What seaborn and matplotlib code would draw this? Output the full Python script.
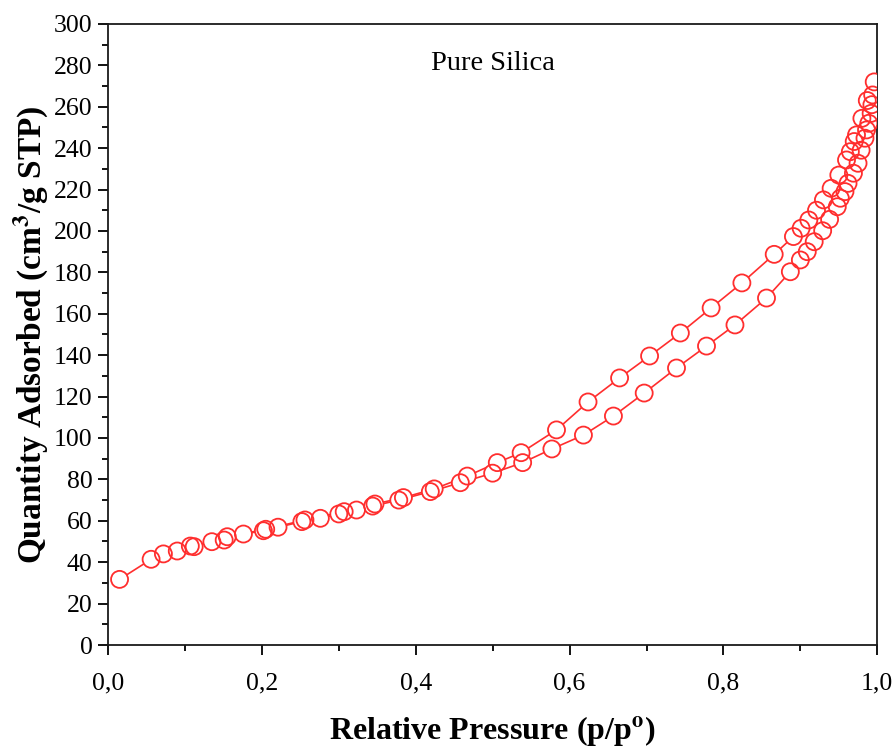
import numpy as np
import pandas as pd
import matplotlib
matplotlib.use('Agg')
import matplotlib.pyplot as plt
import matplotlib.ticker as mtick
import seaborn as sns

ads_p = [0.015, 0.056, 0.072, 0.090, 0.107, 0.135, 0.151, 0.176, 0.202, 0.221,
         0.252, 0.276, 0.300, 0.323, 0.344, 0.378, 0.419, 0.458, 0.500, 0.539,
         0.577, 0.618, 0.657, 0.697, 0.739, 0.778, 0.815, 0.856, 0.887, 0.900,
         0.909, 0.918, 0.929, 0.938, 0.948, 0.952, 0.958, 0.962, 0.969, 0.975,
         0.979, 0.984, 0.986, 0.989, 0.992, 0.993, 0.994]
ads_q = [31.7, 41.4, 44.0, 45.4, 47.8, 49.9, 50.7, 53.6, 55.2, 56.9,
         59.6, 61.2, 63.3, 65.2, 67.1, 70.0, 74.1, 78.4, 83.0, 88.1,
         94.7, 101.4, 110.6, 121.7, 133.8, 144.4, 154.6, 167.6, 180.3, 186.0,
         190.0, 194.8, 200.1, 205.6, 211.7, 215.8, 219.0, 223.0, 227.9, 232.7,
         239.0, 244.8, 248.8, 252.0, 256.8, 261.0, 265.7]

des_p = [0.996, 0.987, 0.980, 0.973, 0.970, 0.965, 0.960, 0.950, 0.940, 0.930,
         0.921, 0.911, 0.901, 0.891, 0.866, 0.824, 0.784, 0.744, 0.704, 0.665,
         0.624, 0.583, 0.537, 0.506, 0.467, 0.424, 0.384, 0.347, 0.307, 0.256,
         0.205, 0.155, 0.112]
des_q = [272.0, 263.0, 254.4, 246.4, 243.2, 238.3, 234.3, 227.0, 220.6, 215.0,
         210.0, 205.3, 201.3, 197.3, 188.7, 174.9, 162.8, 150.7, 139.6, 129.0,
         117.4, 103.9, 92.9, 88.1, 81.6, 75.4, 71.2, 68.1, 64.4, 60.4,
         55.9, 52.3, 47.5]

RED = '#ff2e2e'

sns.set_style('ticks')
plt.rcParams.update({
    'font.family': ['Liberation Serif', 'DejaVu Serif'],
    'mathtext.fontset': 'stix',
    'axes.linewidth': 1.3,
    'text.color': 'black',
    'axes.labelcolor': 'black',
    'xtick.color': 'black',
    'ytick.color': 'black',
})

fig = plt.figure(figsize=(8.95, 7.48), dpi=100)
ax = fig.add_axes([0.1207, 0.1377, 0.8595, 0.8303])

for p, q in ((ads_p, ads_q), (des_p, des_q)):
    df = pd.DataFrame({'p': p, 'q': q})
    sns.lineplot(data=df, x='p', y='q', sort=False, estimator=None,
                 color=RED, lw=1.2, ax=ax, zorder=2)
    # white fill hides the line inside the circles, then outlines on top
    sns.scatterplot(data=df, x='p', y='q', s=150, color='white',
                    edgecolor='none', linewidth=0, ax=ax, zorder=3)
    sns.scatterplot(data=df, x='p', y='q', s=150, facecolor='none',
                    edgecolor=RED, linewidth=1.3, ax=ax, zorder=4)

ax.set_xlim(0, 1.0)
ax.set_ylim(0, 300)
ax.xaxis.set_major_locator(mtick.MultipleLocator(0.2))
ax.xaxis.set_minor_locator(mtick.MultipleLocator(0.1))
ax.yaxis.set_major_locator(mtick.MultipleLocator(20))
ax.yaxis.set_minor_locator(mtick.MultipleLocator(10))
ax.xaxis.set_major_formatter(mtick.FuncFormatter(lambda v, _: f'{v:.1f}'.replace('.', ',')))
ax.tick_params(which='major', direction='out', length=7, width=1.3, labelsize=18.5)
ax.tick_params(which='minor', direction='out', length=4, width=1.3)
ax.tick_params(axis='x', pad=13)
ax.tick_params(axis='y', pad=4)
ax.tick_params(top=False, right=False, which='both')
for s in ax.spines.values():
    s.set_visible(True)
    s.set_color('#1a1a1a')

ax.set_xlabel(r'Relative Pressure (p/p$^{\mathbf{o}}$)', fontsize=23,
              fontweight='bold', labelpad=14)
ax.set_ylabel(r'Quantity Adsorbed (cm$^{\mathbf{3}}$/g STP)', fontsize=24,
              fontweight='bold', labelpad=2)
ax.text(0.5, 281, 'Pure Silica', fontsize=20.5, ha='center', va='center')

fig.savefig('out.png', dpi=100)
